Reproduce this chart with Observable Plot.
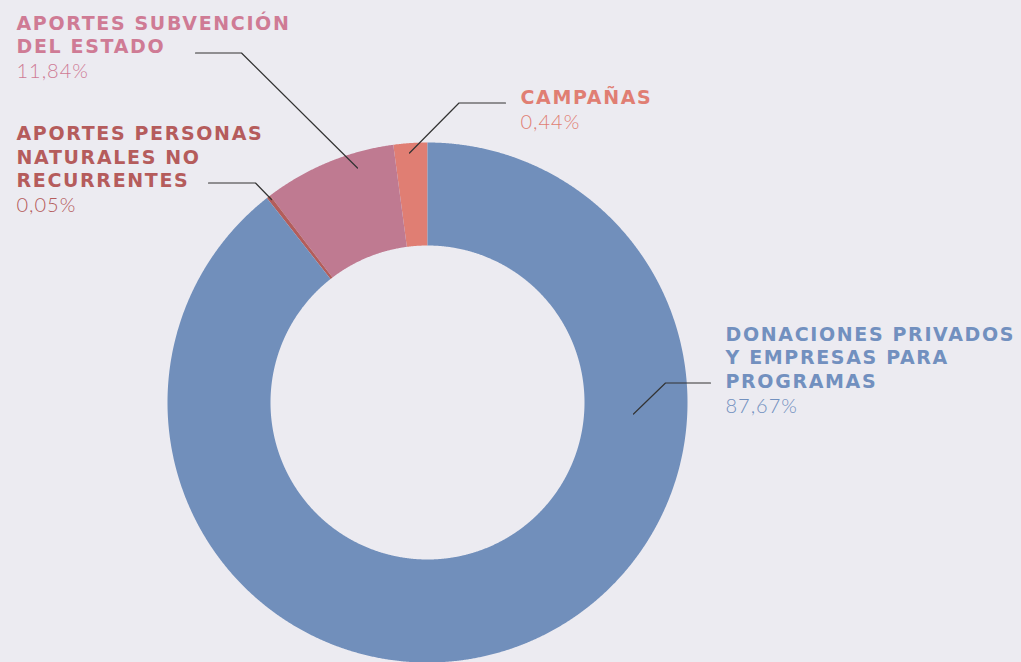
<!DOCTYPE html>
<html><head><meta charset="utf-8">
<script src="https://cdn.jsdelivr.net/npm/d3@7"></script>
<script src="https://cdn.jsdelivr.net/npm/@observablehq/plot@0.6"></script>
<style>html,body{margin:0;padding:0;background:#ecebf1;overflow:hidden}</style>
</head><body><div id="chart"></div>
<script>
// ---- data ----
const categories = ["Campañas", "Aportes subvención del Estado", "Aportes personas naturales no recurrentes", "Donaciones privados y empresas para programas"];
// slice shares as drawn, counter-clockwise from 12 o'clock
const shares = [2.1, 8.25, 0.25, 89.4];
const percentLabels = ["0,44%", "11,84%", "0,05%", "87,67%"];
const nameLines = [["CAMPAÑAS"], ["APORTES SUBVENCIÓN", "DEL ESTADO"], ["APORTES PERSONAS", "NATURALES NO", "RECURRENTES"], ["DONACIONES PRIVADOS", "Y EMPRESAS PARA", "PROGRAMAS"]];
const sliceColors = ["#e07e73", "#bf7a91", "#b35d5b", "#718fbb"];
const labelColors = ["#e07e73", "#cf7b95", "#b55c5c", "#7290bf"];

// ---- layout ----
const cx = 427, cy = 402, R = 260, r = 157;
const labelPos = [[520, 103.3], [16, 29], [16, 139.3], [725, 340]];
const lineStep = 23.8;
const leaders = [
  [[505, 102.5], [458.5, 102.5], [409, 152.5]],
  [[195, 52.5], [241, 52.5], [357, 167.5]],
  [[208, 182.5], [255, 182.5], [271, 199]],
  [[710, 382.5], [665, 382.5], [633, 413.5]]
];

// ---- slice polygons from the data ----
const arcs = d3.pie().sort(null).value(d => d)(shares);
const slicePts = [];
arcs.forEach((a, i) => {
  const n = Math.max(2, Math.ceil((a.endAngle - a.startAngle) / 0.004));
  for (let k = 0; k <= n; k++) {
    const t = a.startAngle + (a.endAngle - a.startAngle) * k / n;
    slicePts.push({cat: categories[i], x: cx - R * Math.sin(t), y: cy - R * Math.cos(t)});
  }
  for (let k = n; k >= 0; k--) {
    const t = a.startAngle + (a.endAngle - a.startAngle) * k / n;
    slicePts.push({cat: categories[i], x: cx - r * Math.sin(t), y: cy - r * Math.cos(t)});
  }
});

const leaderPts = leaders.flatMap((pts, i) => pts.map(([x, y]) => ({id: i, x, y})));

const textMarks = [];
categories.forEach((c, i) => {
  const [lx, ly] = labelPos[i];
  const rows = nameLines[i].map((t, k) => ({x: lx, y: ly + k * lineStep, t}));
  const pct = [{x: lx, y: ly + nameLines[i].length * lineStep + 1, t: percentLabels[i]}];
  textMarks.push(Plot.text(rows, {x: "x", y: "y", text: "t", textAnchor: "start", lineAnchor: "bottom",
    fill: labelColors[i], fontFamily: "DejaVu Sans", fontWeight: "bold", fontSize: 19}));
  textMarks.push(Plot.text(pct, {x: "x", y: "y", text: "t", textAnchor: "start", lineAnchor: "bottom",
    fill: labelColors[i], fontFamily: "Lato", fontWeight: 300, fontSize: 20}));
});

const chart = Plot.plot({
  width: 1021, height: 662, margin: 0,
  x: {type: "identity", axis: null},
  y: {type: "identity", axis: null},
  color: {domain: categories, range: sliceColors},
  style: {background: "#ecebf1", letterSpacing: "1.65px", overflow: "visible"},
  marks: [
    Plot.line(slicePts, {x: "x", y: "y", z: "cat", fill: "cat", stroke: null, curve: "linear-closed"}),
    Plot.line(leaderPts, {x: "x", y: "y", z: "id", stroke: "#333", strokeWidth: 1.2}),
    ...textMarks
  ]
});
d3.select(chart).selectAll("g[font-family='Lato']").style("letter-spacing", "1px");
document.getElementById("chart").appendChild(chart);
</script>
</body></html>
